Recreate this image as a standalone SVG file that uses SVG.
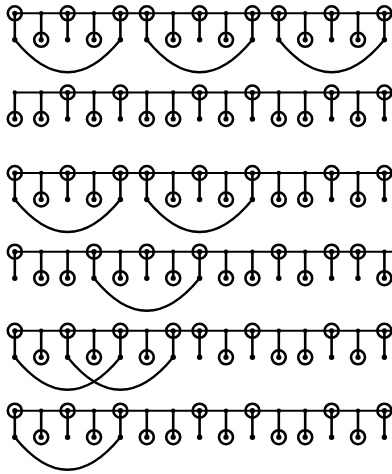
<svg xmlns="http://www.w3.org/2000/svg" xmlns:xlink="http://www.w3.org/1999/xlink" width="392" height="474" viewBox="0 0 392 474">
<style>
.ln{fill:none;stroke:#000;stroke-width:2}
.st{fill:none;stroke:#000;stroke-width:2.6}
.arc{fill:none;stroke:#000;stroke-width:2.4}
</style>
<defs>
<g id="ring"><circle r="7" fill="none" stroke="#000" stroke-width="2.6"/><circle r="2.6" fill="#000"/></g>
<circle id="pt" r="2.2" fill="#000"/>
<circle id="dot" r="2.7" fill="#000"/>
</defs>
<rect width="392" height="474" fill="#fff"/>
<g id="connectors">
<path class="ln" d="M14.8 13.3H392M14.8 92.5H392M14.8 173H392M14.8 251.7H392M14.8 330.8H392M14.8 410.7H392"/>
<path class="st" d="M14.8 13.3V39.8M41.2 13.3V39.8M67.6 13.3V39.8M94 13.3V39.8M120.4 13.3V39.8M146.8 13.3V39.8M173.2 13.3V39.8M199.6 13.3V39.8M226 13.3V39.8M252.4 13.3V39.8M278.8 13.3V39.8M305.2 13.3V39.8M331.6 13.3V39.8M358 13.3V39.8M384.4 13.3V39.8"/>
<path class="st" d="M14.8 92.5V119M41.2 92.5V119M67.6 92.5V119M94 92.5V119M120.4 92.5V119M146.8 92.5V119M173.2 92.5V119M199.6 92.5V119M226 92.5V119M252.4 92.5V119M278.8 92.5V119M305.2 92.5V119M331.6 92.5V119M358 92.5V119M384.4 92.5V119"/>
<path class="st" d="M14.8 173V199.5M41.2 173V199.5M67.6 173V199.5M94 173V199.5M120.4 173V199.5M146.8 173V199.5M173.2 173V199.5M199.6 173V199.5M226 173V199.5M252.4 173V199.5M278.8 173V199.5M305.2 173V199.5M331.6 173V199.5M358 173V199.5M384.4 173V199.5"/>
<path class="st" d="M14.8 251.7V278.2M41.2 251.7V278.2M67.6 251.7V278.2M94 251.7V278.2M120.4 251.7V278.2M146.8 251.7V278.2M173.2 251.7V278.2M199.6 251.7V278.2M226 251.7V278.2M252.4 251.7V278.2M278.8 251.7V278.2M305.2 251.7V278.2M331.6 251.7V278.2M358 251.7V278.2M384.4 251.7V278.2"/>
<path class="st" d="M14.8 330.8V357.3M41.2 330.8V357.3M67.6 330.8V357.3M94 330.8V357.3M120.4 330.8V357.3M146.8 330.8V357.3M173.2 330.8V357.3M199.6 330.8V357.3M226 330.8V357.3M252.4 330.8V357.3M278.8 330.8V357.3M305.2 330.8V357.3M331.6 330.8V357.3M358 330.8V357.3M384.4 330.8V357.3"/>
<path class="st" d="M14.8 410.7V437.2M41.2 410.7V437.2M67.6 410.7V437.2M94 410.7V437.2M120.4 410.7V437.2M146.8 410.7V437.2M173.2 410.7V437.2M199.6 410.7V437.2M226 410.7V437.2M252.4 410.7V437.2M278.8 410.7V437.2M305.2 410.7V437.2M331.6 410.7V437.2M358 410.7V437.2M384.4 410.7V437.2"/>
<path class="arc" d="M14.8 39.8Q67.6 104.8 120.4 39.8M146.8 39.8Q199.6 104.8 252.4 39.8M278.8 39.8Q331.6 104.8 384.4 39.8"/>
<path class="arc" d="M14.8 199.5Q67.6 264.5 120.4 199.5M146.8 199.5Q199.6 264.5 252.4 199.5"/>
<path class="arc" d="M94 278.2Q146.8 343.2 199.6 278.2"/>
<path class="arc" d="M14.8 357.3Q67.6 422.3 120.4 357.3M67.6 357.3Q120.4 422.3 173.2 357.3"/>
<path class="arc" d="M14.8 437.2Q67.6 502.2 120.4 437.2"/>
</g>
<g id="row1">
<g id="r1c0t"><use xlink:href="#ring" x="14.8" y="13.3"/></g><g id="r1c0b"><use xlink:href="#dot" x="14.8" y="39.8"/></g>
<g id="r1c1t"><use xlink:href="#pt" x="41.2" y="13.3"/></g><g id="r1c1b"><use xlink:href="#ring" x="41.2" y="39.8"/></g>
<g id="r1c2t"><use xlink:href="#ring" x="67.6" y="13.3"/></g><g id="r1c2b"><use xlink:href="#dot" x="67.6" y="39.8"/></g>
<g id="r1c3t"><use xlink:href="#pt" x="94" y="13.3"/></g><g id="r1c3b"><use xlink:href="#ring" x="94" y="39.8"/></g>
<g id="r1c4t"><use xlink:href="#ring" x="120.4" y="13.3"/></g><g id="r1c4b"><use xlink:href="#dot" x="120.4" y="39.8"/></g>
<g id="r1c5t"><use xlink:href="#ring" x="146.8" y="13.3"/></g><g id="r1c5b"><use xlink:href="#dot" x="146.8" y="39.8"/></g>
<g id="r1c6t"><use xlink:href="#pt" x="173.2" y="13.3"/></g><g id="r1c6b"><use xlink:href="#ring" x="173.2" y="39.8"/></g>
<g id="r1c7t"><use xlink:href="#ring" x="199.6" y="13.3"/></g><g id="r1c7b"><use xlink:href="#dot" x="199.6" y="39.8"/></g>
<g id="r1c8t"><use xlink:href="#pt" x="226" y="13.3"/></g><g id="r1c8b"><use xlink:href="#ring" x="226" y="39.8"/></g>
<g id="r1c9t"><use xlink:href="#ring" x="252.4" y="13.3"/></g><g id="r1c9b"><use xlink:href="#dot" x="252.4" y="39.8"/></g>
<g id="r1c10t"><use xlink:href="#ring" x="278.8" y="13.3"/></g><g id="r1c10b"><use xlink:href="#dot" x="278.8" y="39.8"/></g>
<g id="r1c11t"><use xlink:href="#pt" x="305.2" y="13.3"/></g><g id="r1c11b"><use xlink:href="#ring" x="305.2" y="39.8"/></g>
<g id="r1c12t"><use xlink:href="#ring" x="331.6" y="13.3"/></g><g id="r1c12b"><use xlink:href="#dot" x="331.6" y="39.8"/></g>
<g id="r1c13t"><use xlink:href="#pt" x="358" y="13.3"/></g><g id="r1c13b"><use xlink:href="#ring" x="358" y="39.8"/></g>
<g id="r1c14t"><use xlink:href="#ring" x="384.4" y="13.3"/></g><g id="r1c14b"><use xlink:href="#dot" x="384.4" y="39.8"/></g>
</g>
<g id="row2">
<g id="r2c0t"><use xlink:href="#pt" x="14.8" y="92.5"/></g><g id="r2c0b"><use xlink:href="#ring" x="14.8" y="119"/></g>
<g id="r2c1t"><use xlink:href="#pt" x="41.2" y="92.5"/></g><g id="r2c1b"><use xlink:href="#ring" x="41.2" y="119"/></g>
<g id="r2c2t"><use xlink:href="#ring" x="67.6" y="92.5"/></g><g id="r2c2b"><use xlink:href="#dot" x="67.6" y="119"/></g>
<g id="r2c3t"><use xlink:href="#pt" x="94" y="92.5"/></g><g id="r2c3b"><use xlink:href="#ring" x="94" y="119"/></g>
<g id="r2c4t"><use xlink:href="#ring" x="120.4" y="92.5"/></g><g id="r2c4b"><use xlink:href="#dot" x="120.4" y="119"/></g>
<g id="r2c5t"><use xlink:href="#pt" x="146.8" y="92.5"/></g><g id="r2c5b"><use xlink:href="#ring" x="146.8" y="119"/></g>
<g id="r2c6t"><use xlink:href="#pt" x="173.2" y="92.5"/></g><g id="r2c6b"><use xlink:href="#ring" x="173.2" y="119"/></g>
<g id="r2c7t"><use xlink:href="#ring" x="199.6" y="92.5"/></g><g id="r2c7b"><use xlink:href="#dot" x="199.6" y="119"/></g>
<g id="r2c8t"><use xlink:href="#pt" x="226" y="92.5"/></g><g id="r2c8b"><use xlink:href="#ring" x="226" y="119"/></g>
<g id="r2c9t"><use xlink:href="#ring" x="252.4" y="92.5"/></g><g id="r2c9b"><use xlink:href="#dot" x="252.4" y="119"/></g>
<g id="r2c10t"><use xlink:href="#pt" x="278.8" y="92.5"/></g><g id="r2c10b"><use xlink:href="#ring" x="278.8" y="119"/></g>
<g id="r2c11t"><use xlink:href="#pt" x="305.2" y="92.5"/></g><g id="r2c11b"><use xlink:href="#ring" x="305.2" y="119"/></g>
<g id="r2c12t"><use xlink:href="#ring" x="331.6" y="92.5"/></g><g id="r2c12b"><use xlink:href="#dot" x="331.6" y="119"/></g>
<g id="r2c13t"><use xlink:href="#pt" x="358" y="92.5"/></g><g id="r2c13b"><use xlink:href="#ring" x="358" y="119"/></g>
<g id="r2c14t"><use xlink:href="#ring" x="384.4" y="92.5"/></g><g id="r2c14b"><use xlink:href="#dot" x="384.4" y="119"/></g>
</g>
<g id="row3">
<g id="r3c0t"><use xlink:href="#ring" x="14.8" y="173"/></g><g id="r3c0b"><use xlink:href="#dot" x="14.8" y="199.5"/></g>
<g id="r3c1t"><use xlink:href="#pt" x="41.2" y="173"/></g><g id="r3c1b"><use xlink:href="#ring" x="41.2" y="199.5"/></g>
<g id="r3c2t"><use xlink:href="#ring" x="67.6" y="173"/></g><g id="r3c2b"><use xlink:href="#dot" x="67.6" y="199.5"/></g>
<g id="r3c3t"><use xlink:href="#pt" x="94" y="173"/></g><g id="r3c3b"><use xlink:href="#ring" x="94" y="199.5"/></g>
<g id="r3c4t"><use xlink:href="#ring" x="120.4" y="173"/></g><g id="r3c4b"><use xlink:href="#dot" x="120.4" y="199.5"/></g>
<g id="r3c5t"><use xlink:href="#ring" x="146.8" y="173"/></g><g id="r3c5b"><use xlink:href="#dot" x="146.8" y="199.5"/></g>
<g id="r3c6t"><use xlink:href="#pt" x="173.2" y="173"/></g><g id="r3c6b"><use xlink:href="#ring" x="173.2" y="199.5"/></g>
<g id="r3c7t"><use xlink:href="#ring" x="199.6" y="173"/></g><g id="r3c7b"><use xlink:href="#dot" x="199.6" y="199.5"/></g>
<g id="r3c8t"><use xlink:href="#pt" x="226" y="173"/></g><g id="r3c8b"><use xlink:href="#ring" x="226" y="199.5"/></g>
<g id="r3c9t"><use xlink:href="#ring" x="252.4" y="173"/></g><g id="r3c9b"><use xlink:href="#dot" x="252.4" y="199.5"/></g>
<g id="r3c10t"><use xlink:href="#pt" x="278.8" y="173"/></g><g id="r3c10b"><use xlink:href="#ring" x="278.8" y="199.5"/></g>
<g id="r3c11t"><use xlink:href="#pt" x="305.2" y="173"/></g><g id="r3c11b"><use xlink:href="#ring" x="305.2" y="199.5"/></g>
<g id="r3c12t"><use xlink:href="#ring" x="331.6" y="173"/></g><g id="r3c12b"><use xlink:href="#dot" x="331.6" y="199.5"/></g>
<g id="r3c13t"><use xlink:href="#pt" x="358" y="173"/></g><g id="r3c13b"><use xlink:href="#ring" x="358" y="199.5"/></g>
<g id="r3c14t"><use xlink:href="#ring" x="384.4" y="173"/></g><g id="r3c14b"><use xlink:href="#dot" x="384.4" y="199.5"/></g>
</g>
<g id="row4">
<g id="r4c0t"><use xlink:href="#ring" x="14.8" y="251.7"/></g><g id="r4c0b"><use xlink:href="#dot" x="14.8" y="278.2"/></g>
<g id="r4c1t"><use xlink:href="#pt" x="41.2" y="251.7"/></g><g id="r4c1b"><use xlink:href="#ring" x="41.2" y="278.2"/></g>
<g id="r4c2t"><use xlink:href="#pt" x="67.6" y="251.7"/></g><g id="r4c2b"><use xlink:href="#ring" x="67.6" y="278.2"/></g>
<g id="r4c3t"><use xlink:href="#ring" x="94" y="251.7"/></g><g id="r4c3b"><use xlink:href="#dot" x="94" y="278.2"/></g>
<g id="r4c4t"><use xlink:href="#pt" x="120.4" y="251.7"/></g><g id="r4c4b"><use xlink:href="#ring" x="120.4" y="278.2"/></g>
<g id="r4c5t"><use xlink:href="#ring" x="146.8" y="251.7"/></g><g id="r4c5b"><use xlink:href="#dot" x="146.8" y="278.2"/></g>
<g id="r4c6t"><use xlink:href="#pt" x="173.2" y="251.7"/></g><g id="r4c6b"><use xlink:href="#ring" x="173.2" y="278.2"/></g>
<g id="r4c7t"><use xlink:href="#ring" x="199.6" y="251.7"/></g><g id="r4c7b"><use xlink:href="#dot" x="199.6" y="278.2"/></g>
<g id="r4c8t"><use xlink:href="#pt" x="226" y="251.7"/></g><g id="r4c8b"><use xlink:href="#ring" x="226" y="278.2"/></g>
<g id="r4c9t"><use xlink:href="#pt" x="252.4" y="251.7"/></g><g id="r4c9b"><use xlink:href="#ring" x="252.4" y="278.2"/></g>
<g id="r4c10t"><use xlink:href="#ring" x="278.8" y="251.7"/></g><g id="r4c10b"><use xlink:href="#dot" x="278.8" y="278.2"/></g>
<g id="r4c11t"><use xlink:href="#pt" x="305.2" y="251.7"/></g><g id="r4c11b"><use xlink:href="#ring" x="305.2" y="278.2"/></g>
<g id="r4c12t"><use xlink:href="#ring" x="331.6" y="251.7"/></g><g id="r4c12b"><use xlink:href="#dot" x="331.6" y="278.2"/></g>
<g id="r4c13t"><use xlink:href="#ring" x="358" y="251.7"/></g><g id="r4c13b"><use xlink:href="#dot" x="358" y="278.2"/></g>
<g id="r4c14t"><use xlink:href="#pt" x="384.4" y="251.7"/></g><g id="r4c14b"><use xlink:href="#ring" x="384.4" y="278.2"/></g>
</g>
<g id="row5">
<g id="r5c0t"><use xlink:href="#ring" x="14.8" y="330.8"/></g><g id="r5c0b"><use xlink:href="#dot" x="14.8" y="357.3"/></g>
<g id="r5c1t"><use xlink:href="#pt" x="41.2" y="330.8"/></g><g id="r5c1b"><use xlink:href="#ring" x="41.2" y="357.3"/></g>
<g id="r5c2t"><use xlink:href="#ring" x="67.6" y="330.8"/></g><g id="r5c2b"><use xlink:href="#dot" x="67.6" y="357.3"/></g>
<g id="r5c3t"><use xlink:href="#pt" x="94" y="330.8"/></g><g id="r5c3b"><use xlink:href="#ring" x="94" y="357.3"/></g>
<g id="r5c4t"><use xlink:href="#ring" x="120.4" y="330.8"/></g><g id="r5c4b"><use xlink:href="#dot" x="120.4" y="357.3"/></g>
<g id="r5c5t"><use xlink:href="#pt" x="146.8" y="330.8"/></g><g id="r5c5b"><use xlink:href="#ring" x="146.8" y="357.3"/></g>
<g id="r5c6t"><use xlink:href="#ring" x="173.2" y="330.8"/></g><g id="r5c6b"><use xlink:href="#dot" x="173.2" y="357.3"/></g>
<g id="r5c7t"><use xlink:href="#ring" x="199.6" y="330.8"/></g><g id="r5c7b"><use xlink:href="#dot" x="199.6" y="357.3"/></g>
<g id="r5c8t"><use xlink:href="#pt" x="226" y="330.8"/></g><g id="r5c8b"><use xlink:href="#ring" x="226" y="357.3"/></g>
<g id="r5c9t"><use xlink:href="#ring" x="252.4" y="330.8"/></g><g id="r5c9b"><use xlink:href="#dot" x="252.4" y="357.3"/></g>
<g id="r5c10t"><use xlink:href="#pt" x="278.8" y="330.8"/></g><g id="r5c10b"><use xlink:href="#ring" x="278.8" y="357.3"/></g>
<g id="r5c11t"><use xlink:href="#pt" x="305.2" y="330.8"/></g><g id="r5c11b"><use xlink:href="#ring" x="305.2" y="357.3"/></g>
<g id="r5c12t"><use xlink:href="#ring" x="331.6" y="330.8"/></g><g id="r5c12b"><use xlink:href="#dot" x="331.6" y="357.3"/></g>
<g id="r5c13t"><use xlink:href="#pt" x="358" y="330.8"/></g><g id="r5c13b"><use xlink:href="#ring" x="358" y="357.3"/></g>
<g id="r5c14t"><use xlink:href="#ring" x="384.4" y="330.8"/></g><g id="r5c14b"><use xlink:href="#dot" x="384.4" y="357.3"/></g>
</g>
<g id="row6">
<g id="r6c0t"><use xlink:href="#ring" x="14.8" y="410.7"/></g><g id="r6c0b"><use xlink:href="#dot" x="14.8" y="437.2"/></g>
<g id="r6c1t"><use xlink:href="#pt" x="41.2" y="410.7"/></g><g id="r6c1b"><use xlink:href="#ring" x="41.2" y="437.2"/></g>
<g id="r6c2t"><use xlink:href="#ring" x="67.6" y="410.7"/></g><g id="r6c2b"><use xlink:href="#dot" x="67.6" y="437.2"/></g>
<g id="r6c3t"><use xlink:href="#pt" x="94" y="410.7"/></g><g id="r6c3b"><use xlink:href="#ring" x="94" y="437.2"/></g>
<g id="r6c4t"><use xlink:href="#ring" x="120.4" y="410.7"/></g><g id="r6c4b"><use xlink:href="#dot" x="120.4" y="437.2"/></g>
<g id="r6c5t"><use xlink:href="#pt" x="146.8" y="410.7"/></g><g id="r6c5b"><use xlink:href="#ring" x="146.8" y="437.2"/></g>
<g id="r6c6t"><use xlink:href="#pt" x="173.2" y="410.7"/></g><g id="r6c6b"><use xlink:href="#ring" x="173.2" y="437.2"/></g>
<g id="r6c7t"><use xlink:href="#ring" x="199.6" y="410.7"/></g><g id="r6c7b"><use xlink:href="#dot" x="199.6" y="437.2"/></g>
<g id="r6c8t"><use xlink:href="#pt" x="226" y="410.7"/></g><g id="r6c8b"><use xlink:href="#ring" x="226" y="437.2"/></g>
<g id="r6c9t"><use xlink:href="#ring" x="252.4" y="410.7"/></g><g id="r6c9b"><use xlink:href="#dot" x="252.4" y="437.2"/></g>
<g id="r6c10t"><use xlink:href="#pt" x="278.8" y="410.7"/></g><g id="r6c10b"><use xlink:href="#ring" x="278.8" y="437.2"/></g>
<g id="r6c11t"><use xlink:href="#pt" x="305.2" y="410.7"/></g><g id="r6c11b"><use xlink:href="#ring" x="305.2" y="437.2"/></g>
<g id="r6c12t"><use xlink:href="#ring" x="331.6" y="410.7"/></g><g id="r6c12b"><use xlink:href="#dot" x="331.6" y="437.2"/></g>
<g id="r6c13t"><use xlink:href="#pt" x="358" y="410.7"/></g><g id="r6c13b"><use xlink:href="#ring" x="358" y="437.2"/></g>
<g id="r6c14t"><use xlink:href="#ring" x="384.4" y="410.7"/></g><g id="r6c14b"><use xlink:href="#dot" x="384.4" y="437.2"/></g>
</g>
</svg>
